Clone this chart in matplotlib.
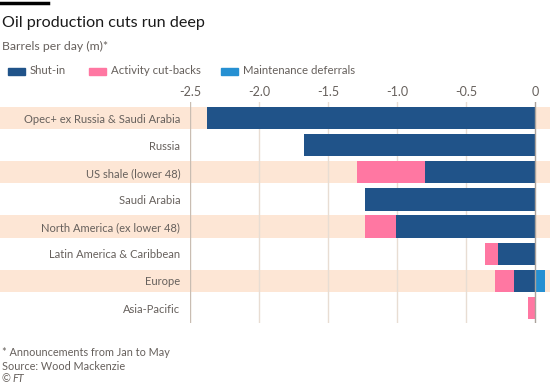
import matplotlib
matplotlib.use("Agg")
import matplotlib.pyplot as plt
from matplotlib.patches import Rectangle
from matplotlib.lines import Line2D

plt.rcParams["font.family"] = ["Lato", "DejaVu Sans"]

# Data (million barrels per day)
regions = [
    "Opec+ ex Russia & Saudi Arabia",
    "Russia",
    "US shale (lower 48)",
    "Saudi Arabia",
    "North America (ex lower 48)",
    "Latin America & Caribbean",
    "Europe",
    "Asia-Pacific",
]
shut_in = [-2.375, -1.675, -0.80, -1.235, -1.01, -0.27, -0.15, 0.0]
activity = [0.0, 0.0, -0.49, 0.0, -0.22, -0.09, -0.14, -0.05]
maintenance = [0.0, 0.0, 0.0, 0.0, 0.0, 0.0, 0.075, 0.0]
ticks = [-2.5, -2.0, -1.5, -1.0, -0.5, 0]
tick_labels = ["-2.5", "-2.0", "-1.5", "-1.0", "-0.5", "0"]
legend_labels = ["Shut-in", "Activity cut-backs", "Maintenance deferrals"]

c_shut = "#205389"
c_act = "#ff77a2"
c_maint = "#2690d2"
band = "#fde6d5"
grid = "#e8ddd3"
txt = "#66605c"

W, H = 550, 383
fig = plt.figure(figsize=(W / 100, H / 100), dpi=100)
fig.patch.set_facecolor("white")
ax = fig.add_axes([190 / W, 60 / H, 360 / W, 221 / H])

ypos = list(range(len(regions)))
h = 0.82

# alternating bands, running across the whole figure width
for i in ypos:
    if i % 2 == 0:
        ax.axhspan(i - h / 2, i + h / 2, xmin=-190 / 360, xmax=1,
                   color=band, lw=0, clip_on=False, zorder=0)

ax.barh(ypos, shut_in, height=h, color=c_shut, zorder=3)
ax.barh(ypos, activity, left=shut_in, height=h, color=c_act, zorder=3)
ax.barh(ypos, maintenance, height=h, color=c_maint, zorder=3)

for t in ticks:
    if t == -2.5:
        ax.axvline(t, color="#c9bdb2", lw=1, zorder=1)
    elif t == 0:
        ax.axvline(t, color="#aaa29b", lw=1, zorder=4)
    else:
        ax.axvline(t, color=grid, lw=1, zorder=1)

ax.set_xlim(-2.5, 0.109)
ax.set_ylim(7.55, -0.59)
ax.xaxis.tick_top()
ax.set_xticks(ticks)
ax.set_xticklabels(tick_labels)
ax.tick_params(axis="x", length=0, pad=3, labelsize=9, colors=txt)
ax.set_yticks(ypos)
ax.set_yticklabels(regions)
ax.tick_params(axis="y", length=0, pad=7, labelsize=8, colors=txt)
for s in ax.spines.values():
    s.set_visible(False)
ax.set_facecolor("none")

# header
fig.add_artist(Line2D([0, 48 / W], [1 - 3 / H, 1 - 3 / H],
                      color="black", lw=2.5, transform=fig.transFigure))
fig.text(2 / W, 1 - 27 / H, "Oil production cuts run deep",
         fontsize=11.6, color="#1a1a1a")
fig.text(2 / W, 1 - 50 / H, "Barrels per day (m)*",
         fontsize=8.8, color=txt)

# legend: swatch x positions and text x positions in pixels
sw_x = [8, 89, 221]
tx_x = [30, 111, 243]
for col, sx, tx, lab in zip([c_shut, c_act, c_maint], sw_x, tx_x, legend_labels):
    fig.add_artist(Rectangle((sx / W, 1 - 74.5 / H), 17 / W, 7 / H,
                             color=col, transform=fig.transFigure))
    fig.text(tx / W, 1 - 71 / H, lab, fontsize=8.2, color=txt, va="center")

# footer
fig.text(2 / W, 1 - 356 / H, "* Announcements from Jan to May",
         fontsize=7.8, color=txt)
fig.text(2 / W, 1 - 370 / H, "Source: Wood Mackenzie",
         fontsize=7.8, color=txt)
fig.text(2 / W, 1 - 382 / H, "©", fontsize=7.8, color=txt)
fig.text(12 / W, 1 - 382 / H, "FT", fontsize=7.8, color=txt,
         style="italic")

fig.savefig("out.png", dpi=100)
